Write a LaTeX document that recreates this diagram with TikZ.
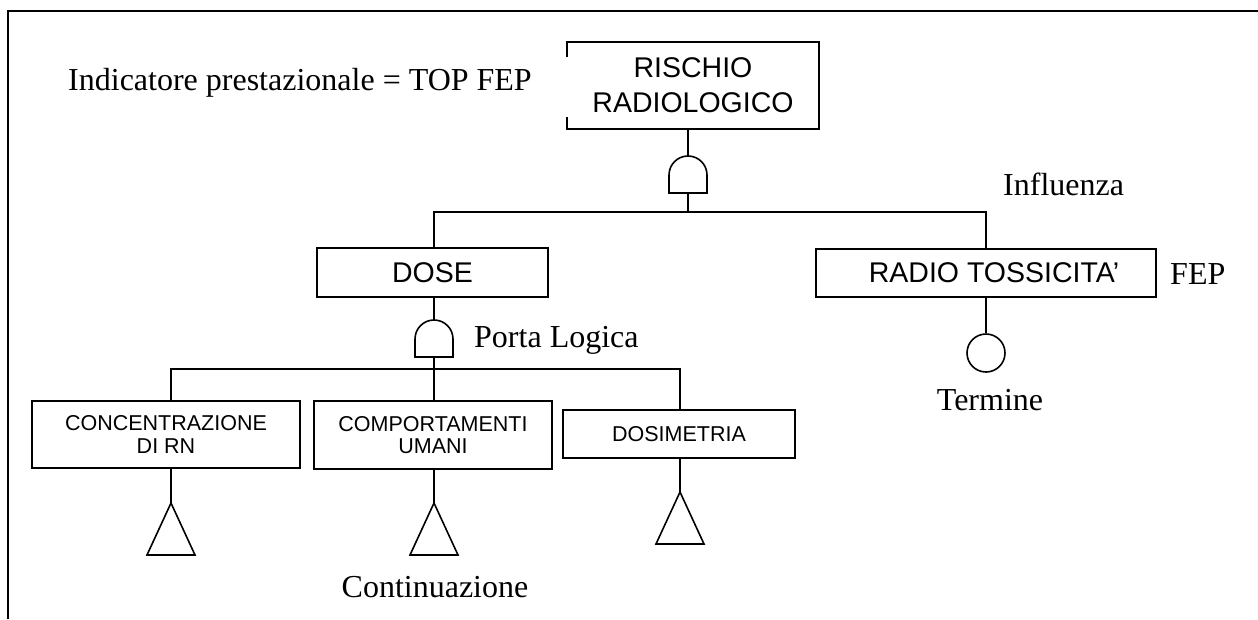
\documentclass[tikz,border=0pt]{standalone}
\usepackage{fontspec}
\setmainfont{Liberation Serif}
\newfontfamily\arialf{Liberation Sans}
\usetikzlibrary{calc}
\begin{document}
\begin{tikzpicture}[x=1pt,y=-1pt,
  lw/.style={line width=1.6pt},
  box/.style={lw, inner sep=0pt, align=center, font=\arialf\fontsize{28.5}{35}\selectfont},
  smallbox/.style={lw, draw, inner sep=0pt, align=center, font=\arialf\fontsize{21.5}{22.5}\selectfont},
  lbl/.style={inner sep=0pt, font=\fontsize{32}{36}\selectfont},
  andgate/.pic={
    \coordinate (-bot) at (0,0);
    \coordinate (-top) at (0,-37);
    \draw[lw] (-19,0) -- (-19,-18) .. controls (-19,-28.5) and (-10.5,-37) .. (0,-37)
      .. controls (10.5,-37) and (19,-28.5) .. (19,-18) -- (19,0) -- cycle;
  },
  contin/.pic={
    \coordinate (-apex) at (0,0);
    \draw[lw] (0,0) -- (24,52) -- (-24,52) -- cycle;
  }]
\useasboundingbox (0,0) rectangle (1258,619);
% frame
\coordinate (fbl) at (8,619);
\coordinate (ftl) at (8,11);
\coordinate (ftr) at (1258,11);
\draw[lw] (fbl) -- (ftl) -- (ftr);

% top event
\node[box, minimum width=250pt, minimum height=85pt] (rischio) at (693,85.5) {RISCHIO\\RADIOLOGICO};
\draw[lw] ($(rischio.north west)+(0,15)$) -- (rischio.north west) -- (rischio.north east)
  -- (rischio.south east) -- (rischio.south west) -- ($(rischio.south west)+(0,-12)$);

\pic (g1) at (688,193) {andgate};
\coordinate (j1) at (688,212);

\node[box, draw, minimum width=231pt, minimum height=49pt] (dose) at (432.5,272.5) {DOSE};
\node[box, draw, minimum width=340pt, minimum height=48pt] (radio) at (986,273) {\kern16pt RADIO TOSSICITA’};
\node[lw, draw, circle, minimum size=38pt, inner sep=0pt] (term) at (986,353) {};

\pic (g2) at (434,357) {andgate};
\coordinate (j2) at (434,369);

\node[smallbox, minimum width=268pt, minimum height=67pt] (conc) at (166,434.5) {CONCENTRAZIONE\\DI RN};
\node[smallbox, minimum width=238pt, minimum height=68pt] (comp) at (433,435) {COMPORTAMENTI\\UMANI};
\node[lw, draw, inner sep=0pt, font=\arialf\fontsize{21.5}{26}\selectfont, minimum width=232pt, minimum height=48pt] (dosim) at (679,434) {DOSIMETRIA};

\pic (t1) at (171,503) {contin};
\pic (t2) at (434,503) {contin};
\pic (t3) at (680,492) {contin};

% connectors
\draw[lw] (rischio.south -| g1-top) -- (g1-top);
\draw[lw] (g1-bot) -- (j1);
\draw[lw] (dose.north -| g2-top) |- (j1) -| (radio.north);
\draw[lw] (radio.south) -- (term.north);
\draw[lw] (dose.south -| g2-top) -- (g2-top);
\draw[lw] (g2-bot) -- (j2);
\draw[lw] (conc.north -| t1-apex) |- (j2) -| (dosim.north -| t3-apex);
\draw[lw] (j2) -- (comp.north -| j2);
\draw[lw] (conc.south -| t1-apex) -- (t1-apex);
\draw[lw] (comp.south -| t2-apex) -- (t2-apex);
\draw[lw] (dosim.south -| t3-apex) -- (t3-apex);

% labels
\node[lbl, anchor=base west] (indic) at (68,90) {Indicatore prestazionale = TOP FEP};
\node[lbl, anchor=base west] (infl) at (1003,195) {Influenza};
\node[lbl, anchor=base west] (fep) at (1170,284) {FEP};
\node[lbl, anchor=base west] (porta) at (474,347) {Porta Logica};
\node[lbl, anchor=base] (termine) at (990,410) {Termine};
\node[lbl, anchor=base] (contlbl) at (435,597) {Continuazione};
\end{tikzpicture}
\end{document}
